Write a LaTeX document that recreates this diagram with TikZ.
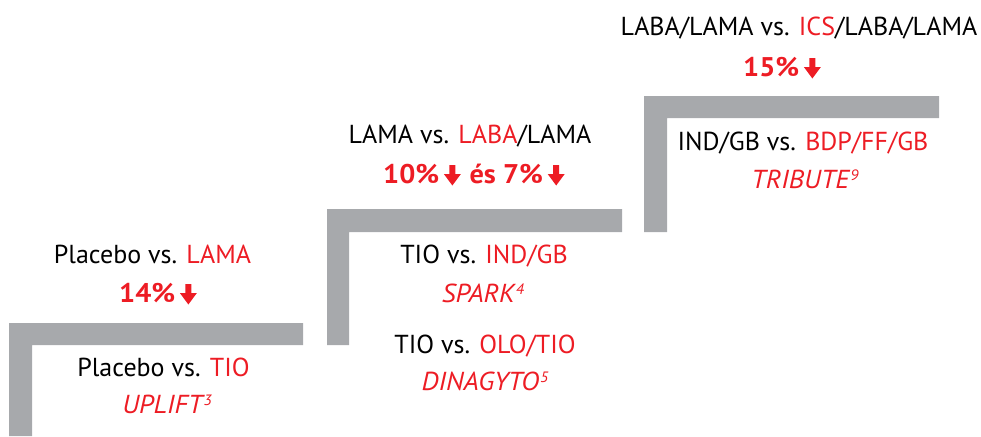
\documentclass[tikz,border=0pt]{standalone}
\usepackage{fontspec}
\setmainfont{PT Sans}
\definecolor{myred}{RGB}{237,28,36}
\definecolor{mygray}{RGB}{167,169,172}
\newcommand{\supnum}[1]{\kern1pt\raisebox{7.5pt}{\fontsize{15}{15}\selectfont #1}}
\tikzset{
  lbl/.style={anchor=base, inner sep=0pt, font=\fontsize{26}{30}\selectfont},
  pct/.style={anchor=base west, inner sep=0pt, font=\fontsize{27}{30}\selectfont\bfseries\addfontfeatures{FakeStretch=1.05}, text=myred},
  study/.style={anchor=base, inner sep=0pt, font=\fontsize{26}{30}\selectfont\itshape\addfontfeatures{FakeStretch=1.05}, text=myred},
  bar/.style={fill=mygray},
  darr/.pic={\fill[myred] (5,-18) -- (11,-18) -- (11,-9) -- (16.5,-9) -- (8,2.5) -- (-0.5,-9) -- (5,-9) -- cycle;}
}
\begin{document}
\begin{tikzpicture}[x=1pt,y=-1pt]
\useasboundingbox (0,0) rectangle (981,436);
% steps
\fill[bar] (9,436) -- (9,323) -- (303,323) -- (303,345) -- (32,345) -- (32,436) -- cycle;
\fill[bar] (327,345) -- (327,209) -- (622,209) -- (622,232) -- (349,232) -- (349,345) -- cycle;
\fill[bar] (644,232) -- (644,96) -- (939,96) -- (939,118) -- (667,118) -- (667,232) -- cycle;
% step 1
\node[lbl] (s1top) at (152.5,263) {Placebo vs. \textcolor{myred}{LAMA}};
\node[pct] (s1pct) at (119,302) {14\%};
\pic at ([xshift=5pt]s1pct.base east) {darr};
\node[lbl] (s1a) at (163.5,376) {Placebo vs. \textcolor{myred}{TIO}};
\node[study] (s1b) at (167,413) {UPLIFT\supnum{3}};
% step 2
\node[lbl] (s2top) at (470,143) {LAMA vs. \textcolor{myred}{LABA}/LAMA};
\node[pct] (s2pcta) at (383,183) {10\%};
\pic at ([xshift=5pt]s2pcta.base east) {darr};
\node[pct] (s2pctb) at ([xshift=30pt]s2pcta.base east) {és 7\%};
\pic at ([xshift=5pt]s2pctb.base east) {darr};
\node[lbl] (s2a) at (484,263) {TIO vs. \textcolor{myred}{IND/GB}};
\node[study] (s2b) at (483,302) {SPARK\supnum{4}};
\node[lbl] (s2c) at (485,353) {TIO vs. \textcolor{myred}{OLO/TIO}};
\node[study] (s2d) at (485,390) {DINAGYTO\supnum{5}};
% step 3
\node[lbl] (s3top) at (799,36) {LABA/LAMA vs. \textcolor{myred}{ICS}/LABA/LAMA};
\node[pct] (s3pct) at (743,76) {15\%};
\pic at ([xshift=5pt]s3pct.base east) {darr};
\node[lbl] (s3a) at (803,150) {IND/GB vs. \textcolor{myred}{BDP/FF/GB}};
\node[study] (s3b) at (805,188) {TRIBUTE\supnum{9}};
\end{tikzpicture}
\end{document}
